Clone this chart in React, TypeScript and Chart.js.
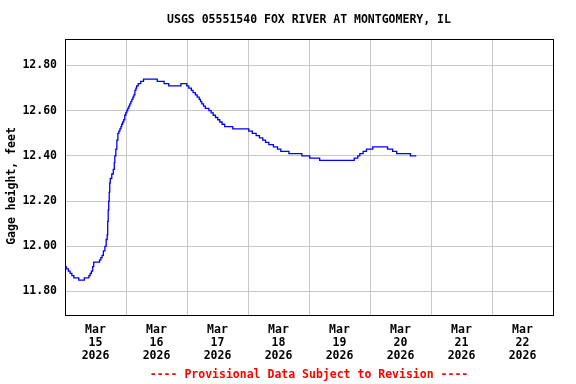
import React, { useEffect, useRef } from 'react';
import { Chart, registerables } from 'chart.js';

Chart.register(...registerables);

const TITLE = 'USGS 05551540 FOX RIVER AT MONTGOMERY, IL';
const Y_TITLE = 'Gage height, feet';
const FOOTER = '---- Provisional Data Subject to Revision ----';
const MONTH = 'Mar';
const YEAR = '2026';
const DAY_LABELS = ['15', '16', '17', '18', '19', '20', '21', '22'];
const Y_TICKS = [11.8, 12.0, 12.2, 12.4, 12.6, 12.8];

// hours since Mar 15 00:00 at which the reading changes
const HOURS = [
  0.0, 0.5, 1.3, 2.0, 2.7, 3.5, 5.4, 7.6, 9.4, 9.9, 10.4, 10.9, 11.3, 13.6, 14.1, 14.6,
  15.1, 15.7, 16.2, 16.6, 16.8, 17.0, 17.2, 17.4, 17.6, 17.8, 18.4, 19.0, 19.4, 19.6,
  20.0, 20.4, 20.8, 21.2, 21.6, 22.0, 22.3, 22.7, 23.1, 23.5, 23.9, 24.3, 24.7, 25.1,
  25.5, 25.9, 26.3, 26.7, 27.1, 27.5, 27.9, 28.2, 28.8, 29.8, 30.9, 36.3, 39.0, 40.8,
  45.6, 47.9, 48.7, 49.7, 50.4, 51.3, 52.0, 52.8, 53.3, 53.8, 54.5, 55.2, 56.6, 57.5,
  58.3, 59.2, 60.1, 60.9, 61.8, 62.8, 66.0, 72.3, 73.7, 75.2, 76.5, 77.8, 78.9, 80.2,
  82.0, 83.6, 84.9, 88.1, 93.2, 96.3, 100.2, 113.8, 115.2, 116.0, 117.3, 118.6, 121.1,
  126.9, 128.9, 130.5, 135.9, 138.2,
];

// gage height, feet
const GAGE_FT = [
  11.91, 11.9, 11.89, 11.88, 11.87, 11.86, 11.85, 11.86, 11.87, 11.88, 11.89, 11.91, 11.93, 11.94, 11.95, 11.96,
  11.98, 12.0, 12.03, 12.05, 12.11, 12.16, 12.2, 12.24, 12.28, 12.3, 12.32, 12.34, 12.37, 12.4,
  12.43, 12.47, 12.5, 12.51, 12.52, 12.53, 12.54, 12.55, 12.56, 12.58, 12.59, 12.6, 12.61, 12.62,
  12.63, 12.64, 12.65, 12.66, 12.67, 12.69, 12.7, 12.71, 12.72, 12.73, 12.74, 12.73, 12.72, 12.71,
  12.72, 12.71, 12.7, 12.69, 12.68, 12.67, 12.66, 12.65, 12.64, 12.63, 12.62, 12.61, 12.6, 12.59,
  12.58, 12.57, 12.56, 12.55, 12.54, 12.53, 12.52, 12.51, 12.5, 12.49, 12.48, 12.47, 12.46, 12.45,
  12.44, 12.43, 12.42, 12.41, 12.4, 12.39, 12.38, 12.39, 12.4, 12.41, 12.42, 12.43, 12.44,
  12.43, 12.42, 12.41, 12.4, 12.4,
];

const FONT_FAMILY = '"DejaVu Sans Mono", "Liberation Mono", monospace';

export default function App() {
  const ref = useRef<HTMLCanvasElement | null>(null);

  useEffect(() => {
    document.body.style.margin = '0';
    const canvas = ref.current;
    if (!canvas) return;

    const framePlugin = {
      id: 'usgsFrame',
      afterDraw(chart: any) {
        const { ctx, chartArea } = chart;
        const l = Math.round(chartArea.left) + 0.5;
        const r = Math.round(chartArea.right) + 0.5;
        const t = Math.round(chartArea.top) + 0.5;
        const b = Math.round(chartArea.bottom) + 0.5;
        ctx.save();
        ctx.strokeStyle = '#000000';
        ctx.lineWidth = 1;
        ctx.strokeRect(l, t, r - l, b - t);
        const cx = (chartArea.left + chartArea.right) / 2;
        ctx.fillStyle = '#000000';
        ctx.font = `bold 11.5px ${FONT_FAMILY}`;
        ctx.textAlign = 'center';
        ctx.textBaseline = 'middle';
        ctx.fillText(TITLE, cx, 20);
        ctx.fillStyle = '#ff0000';
        ctx.fillText(FOOTER, cx, 375.5);
        ctx.fillStyle = '#000000';
        ctx.translate(12.5, 186);
        ctx.rotate(-Math.PI / 2);
        ctx.fillText(Y_TITLE, 0, 0);
        ctx.restore();
      },
    };

    const chart = new Chart(canvas, {
      type: 'line',
      data: {
        datasets: [
          {
            data: HOURS.map((h, i) => ({ x: h, y: GAGE_FT[i] })),
            borderColor: '#0000ff',
            borderWidth: 1.3,
            pointRadius: 0,
            fill: false,
            stepped: true,
            tension: 0,
          },
        ],
      },
      options: {
        animation: false,
        responsive: false,
        devicePixelRatio: 1,
        layout: { padding: { left: 0, right: 23, top: 39, bottom: 0 } },
        plugins: { legend: { display: false }, tooltip: { enabled: false }, title: { display: false } },
        scales: {
          x: {
            type: 'linear',
            min: 0,
            max: 192,
            afterBuildTicks: (s: any) => {
              const t = [];
              for (let v = 0; v <= 192; v += 12) t.push({ value: v });
              s.ticks = t;
            },
            afterFit: (s: any) => {
              s.height = 69;
            },
            border: { display: false },
            grid: {
              drawTicks: false,
              lineWidth: 1,
              color: (c: any) => {
                const v = c.tick ? c.tick.value : 0;
                return v % 24 === 0 && v > 0 && v < 192 ? '#c8c8c8' : 'rgba(0,0,0,0)';
              },
            },
            ticks: {
              autoSkip: false,
              maxRotation: 0,
              minRotation: 0,
              padding: 9,
              color: '#000000',
              font: { family: FONT_FAMILY, size: 11.5, weight: 'bold', lineHeight: '13px' },
              callback: (value: any) => {
                const v = Number(value);
                if (v % 24 === 12) return [MONTH, DAY_LABELS[(v - 12) / 24], YEAR];
                return '';
              },
            },
          },
          y: {
            type: 'linear',
            min: 11.696,
            max: 12.9173,
            afterBuildTicks: (s: any) => {
              s.ticks = Y_TICKS.map((v) => ({ value: v }));
            },
            afterFit: (s: any) => {
              s.width = 65;
            },
            border: { display: false },
            grid: { drawTicks: false, color: '#c8c8c8', lineWidth: 1 },
            ticks: {
              padding: 8,
              color: '#000000',
              font: { family: FONT_FAMILY, size: 11.5, weight: 'bold' },
              callback: (value: any) => Number(value).toFixed(2),
            },
          },
        },
      },
      plugins: [framePlugin],
    } as any);

    return () => {
      chart.destroy();
    };
  }, []);

  return <canvas ref={ref} width={576} height={384} style={{ display: 'block' }} />;
}
